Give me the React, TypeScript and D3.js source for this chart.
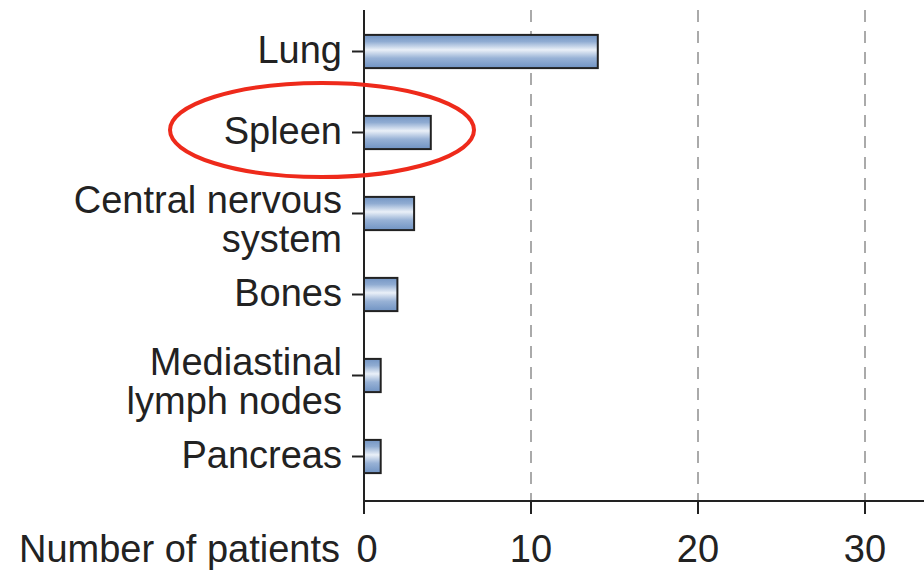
import React from "react";
import * as d3 from "d3";

const categories: string[][] = [
  ["Lung"],
  ["Spleen"],
  ["Central nervous", "system"],
  ["Bones"],
  ["Mediastinal", "lymph nodes"],
  ["Pancreas"],
];
const values: number[] = [14, 4, 3, 2, 1, 1];
const xTicks: number[] = [0, 10, 20, 30];
const gridTicks: number[] = [10, 20, 30];
const xAxisTitle = "Number of patients";

const W = 924;
const H = 571;
const x0 = 364;
const yTop = 11;
const yBottom = 497;
const axisY = 501;
const FS = 38;

export default function App() {
  const x = d3.scaleLinear().domain([0, 10]).range([x0, 531]);
  const keys = categories.map((c) => c.join(" "));
  const y = d3
    .scaleBand<string>()
    .domain(keys)
    .range([yTop, yBottom])
    .paddingInner(0.59)
    .paddingOuter(0.295);
  const font = "'Liberation Sans', Arial, Helvetica, sans-serif";
  const ink = "#222";
  return (
    <svg
      width={W}
      height={H}
      style={{ position: "absolute", left: 0, top: 0, background: "#fff" }}
      fontFamily={font}
    >
      <defs>
        <linearGradient id="barGrad" x1="0" y1="0" x2="0" y2="1">
          <stop offset="0" stopColor="#7395c4" />
          <stop offset="0.2" stopColor="#90acd2" />
          <stop offset="0.45" stopColor="#eaf0f8" />
          <stop offset="0.7" stopColor="#98b2d6" />
          <stop offset="1" stopColor="#7093c3" />
        </linearGradient>
      </defs>
      {gridTicks.map((t) => (
        <line
          key={"g" + t}
          x1={x(t)}
          x2={x(t)}
          y1={10}
          y2={axisY}
          stroke="#aaa"
          strokeWidth={2}
          strokeDasharray="12 9"
        />
      ))}
      {keys.map((k, i) => (
        <rect
          key={"b" + k}
          x={x(0)}
          y={y(k)!}
          width={x(values[i]) - x(0)}
          height={y.bandwidth()}
          fill="url(#barGrad)"
          stroke={ink}
          strokeWidth={2}
        />
      ))}
      <line x1={x0} x2={x0} y1={10} y2={axisY + 1} stroke={ink} strokeWidth={2} />
      <line x1={x0 - 1} x2={W} y1={axisY} y2={axisY} stroke={ink} strokeWidth={2} />
      {keys.map((k, i) => {
        const cy = y(k)! + y.bandwidth() / 2;
        const lines = categories[i];
        return (
          <g key={"l" + k}>
            <line x1={x0 - 12} x2={x0} y1={cy} y2={cy} stroke={ink} strokeWidth={2} />
            {lines.map((ln, j) => (
              <text
                key={j}
                x={342}
                y={lines.length === 1 ? cy + 11 : cy - 1 + j * 39}
                textAnchor="end"
                fontSize={FS}
                fill={ink}
              >
                {ln}
              </text>
            ))}
          </g>
        );
      })}
      {xTicks.map((t) => (
        <g key={"t" + t}>
          <line x1={x(t)} x2={x(t)} y1={axisY} y2={axisY + 13} stroke={ink} strokeWidth={2} />
          <text x={x(t) + (t === 0 ? 3 : 0)} y={562} textAnchor="middle" fontSize={FS} fill={ink}>
            {t}
          </text>
        </g>
      ))}
      <text x={340} y={562} textAnchor="end" fontSize={FS} fill={ink}>
        {xAxisTitle}
      </text>
      <ellipse cx={322} cy={130} rx={152} ry={47} fill="none" stroke="#ee2a1b" strokeWidth={4} />
    </svg>
  );
}
